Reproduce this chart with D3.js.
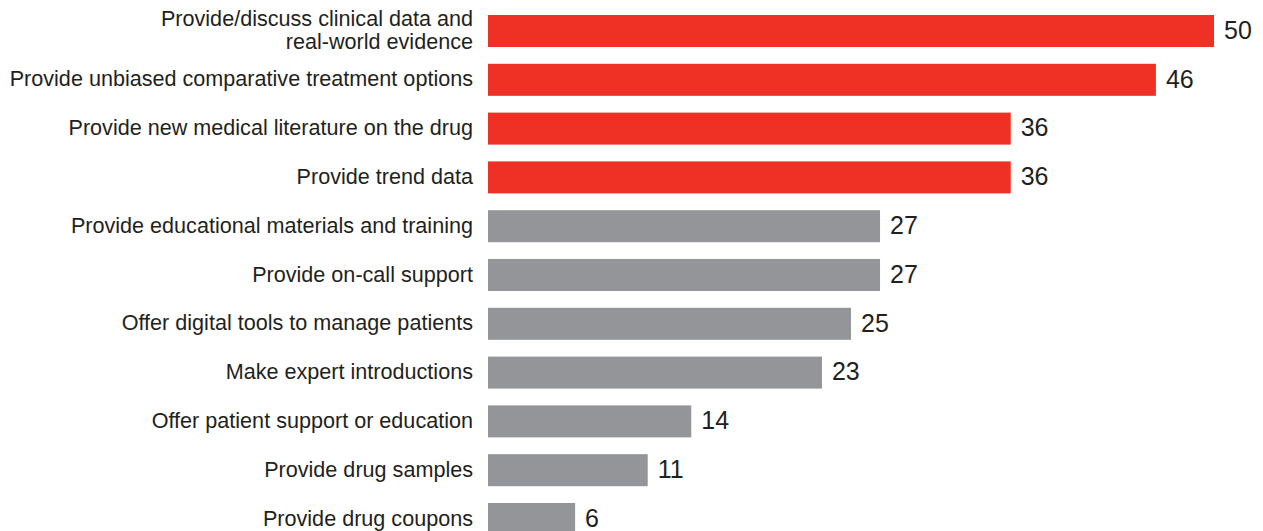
<!DOCTYPE html>
<html>
<head>
<meta charset="utf-8">
<script src="https://cdn.jsdelivr.net/npm/d3@7"></script>
<style>
  html, body { margin: 0; padding: 0; background: #fff; }
  svg { display: block; }
</style>
</head>
<body>
<svg id="chart" width="1263" height="531"></svg>
<script>
// Ways to add value, share of respondents (%)
const categories = [
  ["Provide/discuss clinical data and", "real-world evidence"],
  ["Provide unbiased comparative treatment options"],
  ["Provide new medical literature on the drug"],
  ["Provide trend data"],
  ["Provide educational materials and training"],
  ["Provide on-call support"],
  ["Offer digital tools to manage patients"],
  ["Make expert introductions"],
  ["Offer patient support or education"],
  ["Provide drug samples"],
  ["Provide drug coupons"]
];
const values = [50, 46, 36, 36, 27, 27, 25, 23, 14, 11, 6];
const highlighted = [true, true, true, true, false, false, false, false, false, false, false];

const RED = "#ee3124";
const GRAY = "#939598";
const TEXT = "#231f20";
const FONT = "Liberation Sans, Arial, sans-serif";

const svg = d3.select("#chart");
const x0 = 488;

const x = d3.scaleLinear().domain([0, 50]).range([x0, 1214]);
const y = d3.scaleBand()
  .domain(d3.range(categories.length))
  .range([15, 535])
  .paddingInner(0.344)
  .paddingOuter(0);

const rows = svg.selectAll("g.row")
  .data(values.map((v, i) => ({ v, i, lines: categories[i], hi: highlighted[i] })))
  .join("g")
  .attr("class", "row");

rows.append("rect")
  .attr("x", x(0))
  .attr("y", d => y(d.i))
  .attr("width", d => x(d.v) - x(0))
  .attr("height", y.bandwidth())
  .attr("fill", d => d.hi ? RED : GRAY);

// value labels at the bar ends
rows.append("text")
  .attr("x", d => x(d.v) + 10)
  .attr("y", d => y(d.i) + y.bandwidth() / 2 - 1)
  .attr("dy", "0.35em")
  .attr("font-family", FONT)
  .attr("font-size", 25)
  .attr("fill", TEXT)
  .text(d => d.v);

// category labels, right-aligned against the bars
const lineH = 23;
rows.append("text")
  .attr("text-anchor", "end")
  .attr("font-family", FONT)
  .attr("font-size", 21.6)
  .attr("fill", TEXT)
  .each(function(d) {
    const t = d3.select(this);
    const cy = y(d.i) + y.bandwidth() / 2 - 1;
    const n = d.lines.length;
    d.lines.forEach((line, k) => {
      t.append("tspan")
        .attr("x", x0 - 15)
        .attr("y", cy + (k - (n - 1) / 2) * lineH)
        .attr("dy", "0.35em")
        .text(line);
    });
  });
</script>
</body>
</html>
